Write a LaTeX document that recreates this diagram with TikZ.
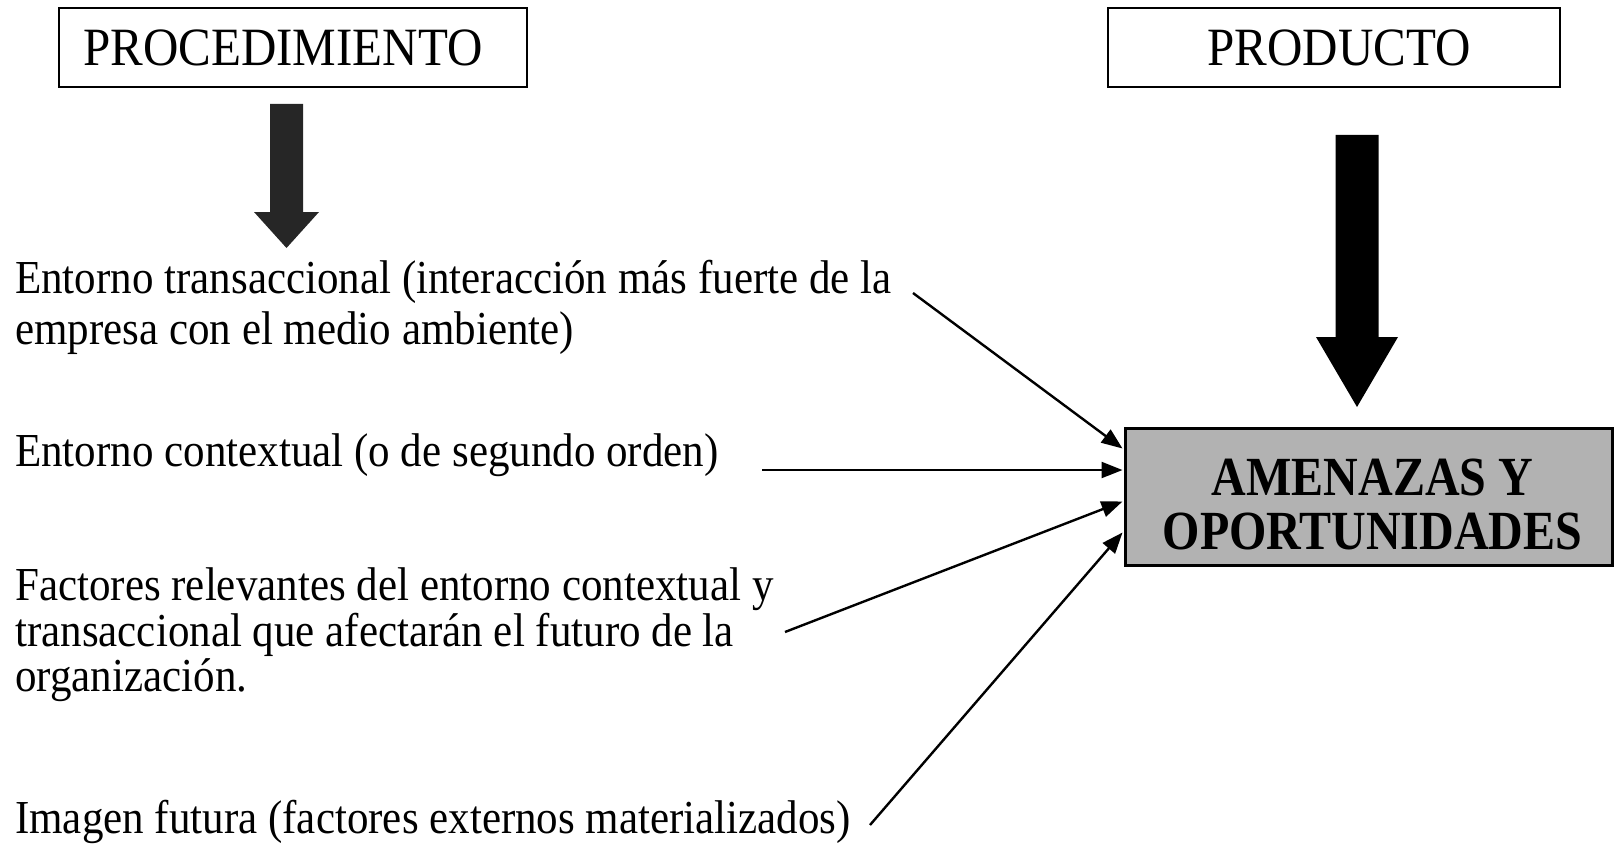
\documentclass[tikz,border=0pt]{standalone}
\usepackage{fontspec}
\setmainfont{Liberation Serif}
\usetikzlibrary{arrows.meta,calc}
\newcommand{\tallx}[1]{\scalebox{1}[1.1]{#1}}
\newcommand{\tallb}[1]{\scalebox{1}[1.15]{#1}}
\begin{document}
\begin{tikzpicture}[x=1pt,y=-1pt,
  body/.style={anchor=base west, inner sep=0pt, font=\fontsize{43}{46}\selectfont},
  titlebox/.style={draw, line width=2pt, fill=white, inner sep=0pt, font=\fontsize{49}{55}\selectfont},
  resultbox/.style={draw, line width=3pt, fill=black!30, inner sep=0pt, align=center,
    font=\fontsize{48}{54}\selectfont\bfseries},
  conn/.style={line width=2.4pt, -{Triangle[length=21pt,width=16pt]}},
  blockarrow/.style={draw=none}
]
\useasboundingbox (0,0) rectangle (1614,848);

% title boxes
\node[titlebox, minimum width=468pt, minimum height=79pt] (proc) at (293,47.5) {\tallx{PROCEDIMIENTO}\hspace*{20pt}};
\node[titlebox, minimum width=452pt, minimum height=79pt] (prod) at (1334,47.5) {\hspace*{10pt}\tallx{PRODUCTO}};

% result box
\node[resultbox, minimum width=487pt, minimum height=137pt] (amen) at (1368.5,496.5)
  {\rule{0pt}{52pt}\hspace*{8pt}\tallb{AMENAZAS Y}\\\hspace*{8pt}\tallb{OPORTUNIDADES}};

% block arrows
\fill[blockarrow, fill=black!85] (270,104) -- (303,104) -- (303,212) -- (319,212) -- (286.5,248)
  -- (254,212) -- (270,212) -- cycle;
\fill[blockarrow, fill=black] (1335.5,135) -- (1378.5,135) -- (1378.5,337) -- (1398,337) -- (1357,407)
  -- (1316,337) -- (1335.5,337) -- cycle;

% texts
\node[body] (t1a) at (15,293) {\tallx{Entorno transaccional (interacción más fuerte de la}};
\node[body] (t1b) at (15,344) {\tallx{empresa con el medio ambiente)}};
\node[body] (t2)  at (15,466) {\tallx{Entorno contextual (o de segundo orden)}};
\node[body] (t3a) at (15,600) {\tallx{Factores relevantes del entorno contextual y}};
\node[body] (t3b) at (15,646) {\tallx{transaccional que afectarán el futuro de la}};
\node[body] (t3c) at (15,691) {\tallx{organización.}};
\node[body] (t4)  at (15,833) {\tallx{Imagen futura (factores externos materializados)}};

% connector start points
\coordinate (s1) at (913,293);
\coordinate (s2) at (762,470);
\coordinate (s3) at (785,632);
\coordinate (s4) at (870,825);

\draw[conn] (s1) -- ($(amen.west)+(-1,-48)$);
\draw[conn] (s2) -- ($(amen.west)+(-1,-26.5)$);
\draw[conn] (s3) -- ($(amen.west)+(-1,5)$);
\draw[conn] (s4) -- ($(amen.west)+(-1,36)$);
\end{tikzpicture}
\end{document}
